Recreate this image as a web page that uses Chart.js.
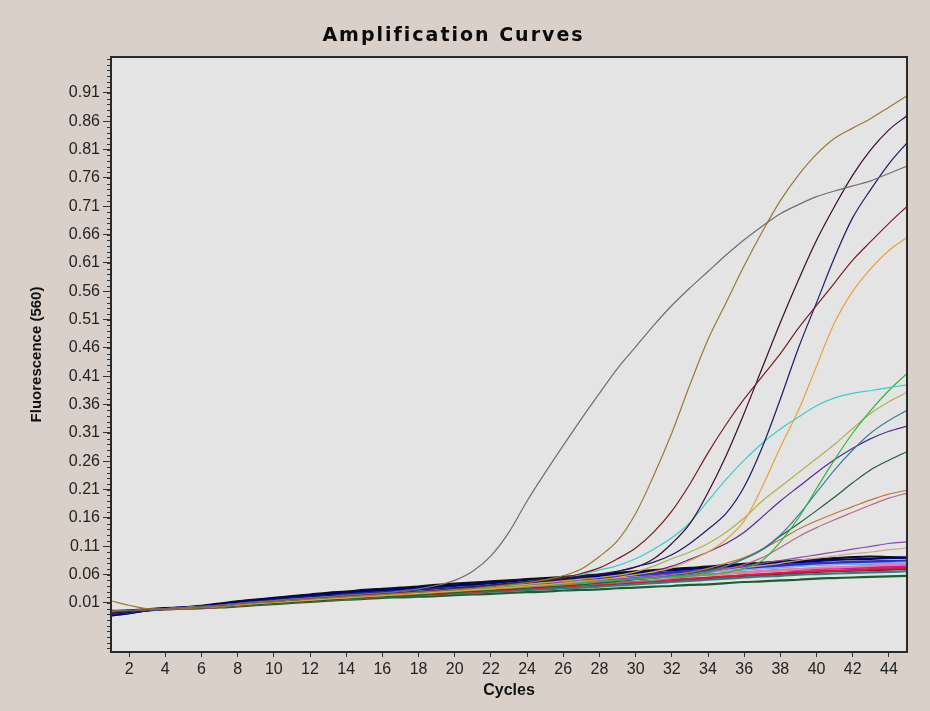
<!DOCTYPE html>
<html>
<head>
<meta charset="utf-8">
<script src="https://cdn.jsdelivr.net/npm/chart.js@4.4.1/dist/chart.umd.min.js"></script>
<style>
html,body{margin:0;padding:0;background:#d9d1c9;}
#wrap{width:930px;height:711px;position:relative;}
</style>
</head>
<body>
<div id="wrap"><canvas id="c" width="930" height="711"></canvas></div>
<script>
// ---------- data ----------
const chartTitle = 'Amplification Curves';
const xTitle = 'Cycles';
const yTitle = 'Fluorescence (560)';

const cycles = [1,2,3,4,5,6,7,8,9,10,11,12,13,14,15,16,17,18,19,20,21,22,23,24,25,26,27,28,29,30,31,32,33,34,35,36,37,38,39,40,41,42,43,44,45];
const xTickValues = [2,4,6,8,10,12,14,16,18,20,22,24,26,28,30,32,34,36,38,40,42,44];
const yTickValues = [0.01,0.06,0.11,0.16,0.21,0.26,0.31,0.36,0.41,0.46,0.51,0.56,0.61,0.66,0.71,0.76,0.81,0.86,0.91];
const yTickLabels = ['0.01','0.06','0.11','0.16','0.21','0.26','0.31','0.36','0.41','0.46','0.51','0.56','0.61','0.66','0.71','0.76','0.81','0.86','0.91'];

// amplifying samples
const sGray = [-0.004,-0.003,-0.002,0.000,0.002, 0.003,0.006,0.009,0.012,0.014, 0.017,0.019,0.021,0.024,0.026, 0.028,0.031,0.035,0.041,0.050, 0.066,0.093,0.135,0.190,0.240, 0.288,0.335,0.380,0.424,0.462, 0.500,0.535,0.566,0.595,0.624, 0.651,0.675,0.697,0.713,0.727, 0.737,0.746,0.755,0.768,0.781];
const sGolden = [0.014,0.006,0.000,-0.001,0.000, 0.002,0.004,0.007,0.010,0.012, 0.015,0.017,0.019,0.021,0.023, 0.025,0.027,0.029,0.031,0.034, 0.036,0.039,0.042,0.046,0.051, 0.058,0.070,0.092,0.120,0.168, 0.235,0.310,0.395,0.475,0.540, 0.605,0.665,0.720,0.765,0.802, 0.830,0.848,0.865,0.885,0.905];
const sDarkRed = [-0.006,-0.004,-0.002,0.000,0.001, 0.003,0.006,0.009,0.012,0.014, 0.016,0.018,0.020,0.022,0.024, 0.026,0.028,0.030,0.032,0.034, 0.037,0.040,0.043,0.046,0.050, 0.055,0.062,0.072,0.088,0.107, 0.135,0.172,0.220,0.275,0.325, 0.370,0.410,0.450,0.495,0.535, 0.575,0.615,0.648,0.680,0.710];
const sMaroon = [-0.008,-0.005,-0.002,0.000,0.001, 0.002,0.005,0.008,0.011,0.013, 0.015,0.018,0.020,0.022,0.024, 0.026,0.028,0.030,0.032,0.035, 0.037,0.040,0.043,0.046,0.049, 0.052,0.056,0.061,0.066,0.073, 0.088,0.115,0.150,0.205,0.270, 0.345,0.425,0.505,0.580,0.650, 0.710,0.765,0.810,0.845,0.870];
const sNavy = [-0.010,-0.007,-0.003,0.000,0.001, 0.003,0.006,0.010,0.013,0.016, 0.019,0.021,0.023,0.025,0.027, 0.029,0.031,0.033,0.035,0.037, 0.039,0.042,0.045,0.048,0.051, 0.054,0.057,0.060,0.066,0.074, 0.082,0.095,0.115,0.140,0.168, 0.215,0.285,0.370,0.460,0.540, 0.620,0.690,0.740,0.785,0.822];
const sOrange = [-0.005,-0.004,-0.002,0.000,0.001, 0.002,0.004,0.006,0.009,0.011, 0.013,0.015,0.017,0.019,0.021, 0.023,0.025,0.027,0.029,0.031, 0.033,0.035,0.037,0.040,0.042, 0.045,0.048,0.051,0.055,0.060, 0.065,0.072,0.085,0.100,0.122, 0.155,0.215,0.285,0.350,0.428, 0.505,0.560,0.600,0.632,0.655];
const sCyan = [-0.006,-0.004,-0.002,0.000,0.002, 0.003,0.006,0.009,0.012,0.015, 0.017,0.019,0.022,0.024,0.026, 0.028,0.030,0.032,0.034,0.037, 0.039,0.042,0.045,0.048,0.051, 0.055,0.060,0.068,0.076,0.088, 0.105,0.125,0.152,0.190,0.228, 0.262,0.292,0.317,0.338,0.358, 0.372,0.380,0.385,0.390,0.395];
const sGreen = [-0.007,-0.005,-0.002,0.000,0.001, 0.002,0.004,0.007,0.010,0.012, 0.014,0.016,0.018,0.020,0.022, 0.024,0.026,0.028,0.030,0.032, 0.034,0.036,0.038,0.040,0.042, 0.044,0.046,0.048,0.050,0.052, 0.054,0.056,0.058,0.060,0.064, 0.071,0.085,0.118,0.160,0.212, 0.263,0.310,0.350,0.385,0.415];
const sOlive = [-0.005,-0.004,-0.002,0.000,0.002, 0.004,0.006,0.009,0.011,0.013, 0.015,0.017,0.019,0.021,0.023, 0.025,0.027,0.029,0.031,0.033, 0.035,0.038,0.040,0.043,0.046, 0.049,0.052,0.055,0.059,0.065, 0.075,0.088,0.100,0.115,0.135, 0.160,0.190,0.215,0.240,0.265, 0.290,0.318,0.345,0.365,0.382];
const sTeal = [-0.008,-0.006,-0.003,-0.001,0.001, 0.002,0.004,0.007,0.010,0.012, 0.014,0.016,0.018,0.020,0.022, 0.024,0.026,0.028,0.030,0.032, 0.034,0.036,0.038,0.040,0.042, 0.044,0.046,0.048,0.050,0.053, 0.055,0.058,0.060,0.065,0.075, 0.088,0.105,0.130,0.165,0.205, 0.245,0.280,0.310,0.332,0.350];
const sPurple = [-0.009,-0.006,-0.003,0.000,0.001, 0.003,0.006,0.009,0.012,0.015, 0.018,0.020,0.022,0.025,0.027, 0.029,0.031,0.033,0.035,0.037, 0.039,0.041,0.043,0.045,0.048, 0.050,0.052,0.055,0.057,0.060, 0.066,0.075,0.087,0.100,0.115, 0.135,0.162,0.190,0.215,0.240, 0.263,0.283,0.300,0.313,0.322];
const sDarkGreen = [-0.010,-0.007,-0.003,-0.001,0.000, 0.001,0.003,0.005,0.007,0.009, 0.011,0.013,0.015,0.017,0.019, 0.021,0.022,0.024,0.026,0.028, 0.030,0.032,0.034,0.036,0.038, 0.040,0.042,0.045,0.048,0.051, 0.054,0.058,0.062,0.068,0.076, 0.088,0.104,0.128,0.150,0.173, 0.197,0.222,0.245,0.262,0.277];
const sBrownOrange = [-0.006,-0.004,-0.002,0.000,0.001, 0.002,0.004,0.006,0.008,0.011, 0.013,0.015,0.017,0.019,0.021, 0.023,0.025,0.026,0.028,0.030, 0.032,0.034,0.036,0.038,0.040, 0.042,0.044,0.046,0.049,0.052, 0.055,0.059,0.064,0.071,0.080, 0.090,0.105,0.122,0.140,0.155, 0.168,0.180,0.192,0.202,0.209];
const sMauve = [-0.007,-0.005,-0.002,0.000,0.001, 0.002,0.003,0.005,0.007,0.009, 0.011,0.013,0.015,0.017,0.019, 0.021,0.023,0.025,0.027,0.028, 0.030,0.032,0.034,0.036,0.038, 0.040,0.042,0.044,0.046,0.048, 0.050,0.053,0.057,0.063,0.070, 0.078,0.090,0.108,0.127,0.143, 0.157,0.170,0.183,0.195,0.204];
const sLowPurple = [-0.006,-0.004,-0.002,0.000,0.002, 0.003,0.005,0.008,0.011,0.013, 0.015,0.018,0.020,0.022,0.024, 0.026,0.028,0.030,0.032,0.034, 0.036,0.038,0.040,0.042,0.044, 0.046,0.048,0.050,0.052,0.055, 0.058,0.061,0.064,0.067,0.071, 0.075,0.080,0.085,0.090,0.095, 0.100,0.105,0.110,0.115,0.118];
const sTan = [-0.007,-0.005,-0.002,0.000,0.001, 0.002,0.004,0.007,0.009,0.011, 0.013,0.015,0.017,0.019,0.021, 0.023,0.025,0.027,0.029,0.031, 0.033,0.035,0.037,0.039,0.041, 0.043,0.045,0.047,0.050,0.053, 0.056,0.059,0.062,0.065,0.068, 0.072,0.076,0.080,0.085,0.089, 0.093,0.097,0.100,0.104,0.107];

// non-amplifying (baseline) samples
const bNavy = [-0.012,-0.008,-0.003,0.000,0.002, 0.004,0.008,0.012,0.015,0.018, 0.021,0.024,0.026,0.029,0.031, 0.033,0.035,0.037,0.039,0.041, 0.043,0.045,0.047,0.049,0.051, 0.053,0.056,0.058,0.061,0.063, 0.066,0.068,0.070,0.072,0.074, 0.076,0.078,0.080,0.082,0.084, 0.086,0.087,0.088,0.089,0.090];
const bBlack = [-0.004,-0.003,-0.001,0.001,0.002, 0.005,0.009,0.013,0.016,0.019, 0.022,0.025,0.028,0.030,0.033, 0.035,0.037,0.039,0.042,0.044, 0.046,0.048,0.050,0.052,0.054, 0.056,0.058,0.060,0.063,0.066, 0.068,0.070,0.072,0.074,0.077, 0.079,0.081,0.083,0.085,0.087, 0.089,0.091,0.092,0.091,0.090];
const bBlue = [-0.009,-0.006,-0.003,0.000,0.002, 0.003,0.007,0.011,0.014,0.017, 0.019,0.022,0.024,0.026,0.028, 0.030,0.032,0.034,0.036,0.038, 0.040,0.042,0.044,0.046,0.048, 0.050,0.052,0.054,0.057,0.059, 0.061,0.063,0.066,0.068,0.070, 0.072,0.074,0.076,0.078,0.080, 0.081,0.082,0.083,0.084,0.085];
const bPink = [-0.008,-0.005,-0.002,0.000,0.001, 0.002,0.004,0.007,0.010,0.012, 0.014,0.016,0.018,0.020,0.022, 0.024,0.026,0.028,0.030,0.032, 0.034,0.036,0.038,0.040,0.042, 0.044,0.046,0.048,0.050,0.052, 0.054,0.056,0.058,0.060,0.062, 0.064,0.066,0.068,0.070,0.072, 0.073,0.074,0.076,0.077,0.078];
const bRed = [-0.010,-0.007,-0.003,-0.001,0.000, 0.001,0.003,0.005,0.008,0.010, 0.012,0.014,0.016,0.018,0.020, 0.021,0.023,0.025,0.026,0.028, 0.030,0.031,0.033,0.035,0.037, 0.039,0.041,0.043,0.045,0.047, 0.049,0.051,0.053,0.055,0.057, 0.059,0.061,0.063,0.065,0.066, 0.067,0.068,0.070,0.071,0.072];
const bMagenta = [-0.007,-0.005,-0.002,0.000,0.002, 0.003,0.006,0.009,0.012,0.014, 0.016,0.018,0.020,0.022,0.024, 0.026,0.028,0.030,0.031,0.033, 0.035,0.037,0.039,0.041,0.043, 0.045,0.047,0.049,0.051,0.053, 0.055,0.056,0.058,0.060,0.062, 0.064,0.066,0.068,0.069,0.070, 0.071,0.072,0.073,0.074,0.075];
const bTeal = [-0.011,-0.007,-0.003,0.000,0.001, 0.002,0.004,0.006,0.008,0.010, 0.012,0.014,0.016,0.017,0.019, 0.021,0.022,0.024,0.025,0.027, 0.028,0.030,0.031,0.033,0.034, 0.036,0.037,0.039,0.041,0.043, 0.045,0.047,0.049,0.051,0.053, 0.055,0.057,0.058,0.060,0.061, 0.062,0.063,0.064,0.065,0.066];
const bDarkGreen = [-0.012,-0.008,-0.003,-0.001,0.000, 0.001,0.002,0.004,0.006,0.008, 0.010,0.012,0.014,0.016,0.017, 0.019,0.020,0.021,0.022,0.024, 0.025,0.026,0.028,0.029,0.030, 0.032,0.033,0.034,0.036,0.037, 0.039,0.040,0.042,0.043,0.045, 0.047,0.048,0.050,0.051,0.053, 0.054,0.055,0.056,0.057,0.058];
const bLavender = [-0.006,-0.004,-0.002,0.000,0.002, 0.004,0.007,0.010,0.013,0.016, 0.018,0.020,0.022,0.025,0.027, 0.029,0.031,0.033,0.035,0.037, 0.039,0.041,0.043,0.045,0.047, 0.049,0.051,0.053,0.055,0.058, 0.060,0.062,0.064,0.066,0.068, 0.070,0.072,0.074,0.076,0.078, 0.079,0.080,0.081,0.082,0.082];
const bCrimson = [-0.009,-0.006,-0.003,-0.001,0.001, 0.002,0.004,0.006,0.009,0.011, 0.013,0.015,0.017,0.019,0.020, 0.022,0.024,0.025,0.027,0.029, 0.030,0.032,0.034,0.035,0.037, 0.039,0.041,0.042,0.044,0.046, 0.048,0.050,0.051,0.053,0.055, 0.057,0.059,0.061,0.063,0.065, 0.066,0.067,0.068,0.069,0.070];
const bSky = [-0.007,-0.005,-0.002,0.000,0.001, 0.003,0.006,0.009,0.012,0.014, 0.017,0.019,0.021,0.023,0.025, 0.027,0.029,0.031,0.033,0.035, 0.037,0.039,0.041,0.043,0.046, 0.048,0.050,0.052,0.055,0.057, 0.059,0.061,0.063,0.065,0.067, 0.069,0.071,0.073,0.075,0.077, 0.078,0.079,0.079,0.080,0.080];
const bDarkPurple = [-0.008,-0.006,-0.002,0.000,0.002, 0.004,0.008,0.011,0.014,0.017, 0.020,0.022,0.025,0.027,0.029, 0.031,0.033,0.035,0.037,0.039, 0.041,0.043,0.045,0.047,0.049, 0.051,0.053,0.055,0.057,0.060, 0.062,0.064,0.066,0.068,0.070, 0.072,0.074,0.076,0.078,0.080, 0.081,0.082,0.083,0.084,0.084];

const amplifiedSeries = [sGray, sGolden, sDarkRed, sMaroon, sNavy, sOrange, sCyan, sGreen, sOlive, sTeal, sPurple, sDarkGreen, sBrownOrange, sMauve, sLowPurple, sTan];
const amplifiedColors = ['#6e6e6e','#9a7a30','#7a1c24','#3a0c30','#1c1c66','#e8a23c','#3ccccc','#2fb83a','#b4b048','#3a7fa0','#5a2a96','#255a35','#c4743c','#b86a8a','#8a4aa8','#c8aa8c'];
const baselineSeries = [bNavy, bBlack, bBlue, bPink, bRed, bMagenta, bTeal, bDarkGreen, bLavender, bCrimson, bSky, bDarkPurple];
const baselineColors = ['#000080','#111111','#2034c8','#f07aa8','#d0203c','#c020a0','#208880','#1f5c30','#a4a8e6','#8c1030','#4cb0e0','#4c1470'];

// ---------- build ----------
function toPoints(arr){ return arr.map((v,i)=>({x:cycles[i], y:v})); }
const datasets = [];
amplifiedSeries.forEach((s,i)=>datasets.push({data:toPoints(s), borderColor:amplifiedColors[i], borderWidth:1.2}));
baselineSeries.forEach((s,i)=>datasets.push({data:toPoints(s), borderColor:baselineColors[i], borderWidth:2.2}));

const bgPlugin = {
  id:'bg',
  beforeDraw(chart){
    const {ctx, chartArea:a} = chart;
    ctx.save();
    ctx.fillStyle = '#d9d1c9';
    ctx.fillRect(0,0,chart.width,chart.height);
    ctx.fillStyle = '#e4e4e4';
    ctx.fillRect(a.left,a.top,a.right-a.left,a.bottom-a.top);
    ctx.restore();
  },
  afterDraw(chart){
    const {ctx, chartArea:a} = chart;
    const ys = chart.scales.y;
    ctx.save();
    ctx.strokeStyle = '#333';
    ctx.lineWidth = 1;
    for (let k=-7; k<=97; k++){
      const v = k/100;
      if (v < ys.min || v > ys.max) continue;
      const y = Math.round(ys.getPixelForValue(v)) + 0.5;
      ctx.beginPath(); ctx.moveTo(a.left-4, y); ctx.lineTo(a.left, y); ctx.stroke();
    }
    ctx.strokeStyle = '#2a2a2a';
    ctx.lineWidth = 2;
    ctx.strokeRect(a.left, a.top, a.right-a.left, a.bottom-a.top);
    ctx.restore();
  }
};

const chart = new Chart(document.getElementById('c'), {
  type:'line',
  data:{datasets},
  plugins:[bgPlugin],
  options:{
    responsive:false,
    animation:false,
    devicePixelRatio:1,
    layout:{padding:{left:0,right:23,top:0,bottom:0}},
    elements:{point:{radius:0}, line:{tension:0.35}},
    plugins:{
      legend:{display:false},
      tooltip:{enabled:false},
      title:{display:true, text:chartTitle, color:'#0a0a0a',
        font:{family:'DejaVu Sans', size:19, weight:'bold'},
        padding:{top:25, bottom:9.2}}
    },
    scales:{
      x:{type:'linear', min:1, max:45,
        afterBuildTicks(s){ s.ticks = xTickValues.map(v=>({value:v})); },
        afterFit(s){ s.height = 59; },
        ticks:{autoSkip:false, maxRotation:0, padding:3, color:'#222',
          font:{family:'Liberation Sans', size:16}, callback:(v)=>String(v)},
        grid:{display:true, drawOnChartArea:false, drawTicks:true, tickLength:5, color:'#333'},
        border:{display:false},
        title:{display:true, text:xTitle, color:'#111',
          font:{family:'Liberation Sans', size:16, weight:'bold'}, padding:{top:0,bottom:11}}
      },
      y:{type:'linear', min:-0.0765, max:0.9735,
        afterBuildTicks(s){ s.ticks = yTickValues.map(v=>({value:v})); },
        afterFit(s){ s.width = 111; },
        ticks:{autoSkip:false, padding:3, color:'#222',
          font:{family:'Liberation Sans', size:16}, callback:(v,i)=>yTickLabels[i]},
        grid:{display:true, drawOnChartArea:false, drawTicks:true, tickLength:8, color:'#333'},
        border:{display:false},
        title:{display:true, text:yTitle, color:'#111',
          font:{family:'Liberation Sans', size:15, weight:'bold'}, padding:{top:28,bottom:0}}
      }
    }
  }
});

// widen the title's letter spacing like the original
if (chart.titleBlock){
  const origDraw = chart.titleBlock.draw;
  chart.titleBlock.draw = function(){
    const ctx = this.ctx;
    ctx.save();
    ctx.letterSpacing = '2px';
    origDraw.apply(this, arguments);
    ctx.restore();
  };
  chart.draw();
}
</script>
</body>
</html>
